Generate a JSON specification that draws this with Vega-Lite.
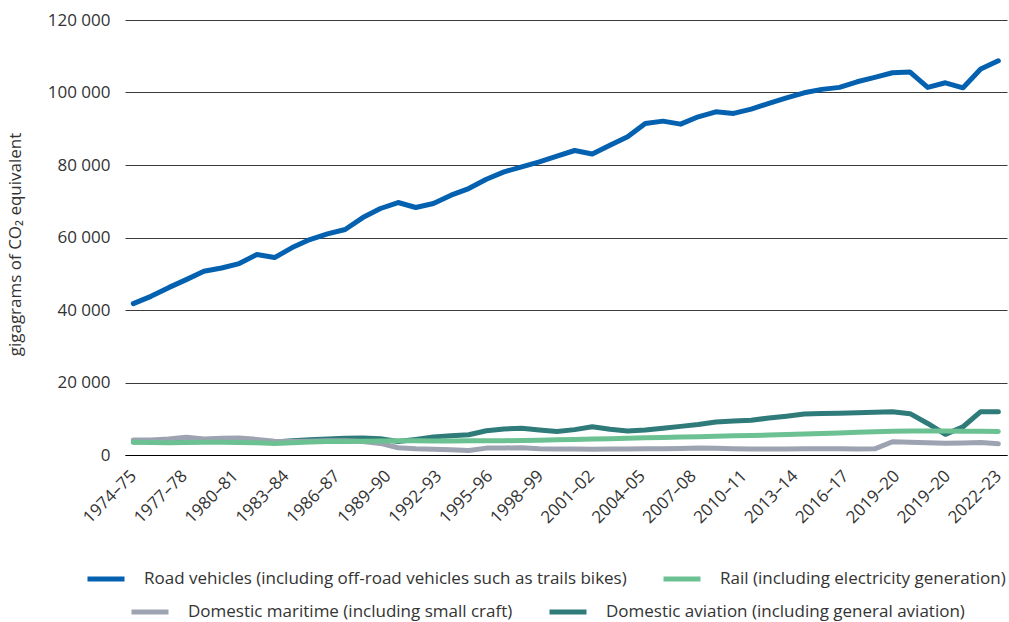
{
  "$schema": "https://vega.github.io/schema/vega-lite/v6.json",
  "width": 882,
  "height": 435,
  "autosize": {"type": "none"},
  "padding": {"left": 125, "top": 20, "right": 2, "bottom": 167},
  "background": "white",
  "config": {
    "font": "Open Sans",
    "view": {"stroke": null},
    "axis": {"labelFontSize": 17, "labelColor": "#333333", "labelFont": "Open Sans", "titleFont": "Open Sans"},
    "legend": {
      "symbolType": "stroke",
      "symbolStrokeWidth": 5,
      "symbolSize": 1369,
      "labelFontSize": 17,
      "labelFont": "Open Sans",
      "labelColor": "#333333",
      "labelLimit": 1000,
      "columnPadding": 26,
      "labelOffset": 17
    }
  },
  "data": {
    "values": [
      {"idx": 0, "year": "1974–75", "road": 41750, "rail": 3500, "maritime": 4150, "aviation": 3600},
      {"idx": 1, "year": "1975–76", "road": 43770, "rail": 3450, "maritime": 4150, "aviation": 3700},
      {"idx": 2, "year": "1976–77", "road": 46170, "rail": 3400, "maritime": 4400, "aviation": 3800},
      {"idx": 3, "year": "1977–78", "road": 48380, "rail": 3450, "maritime": 4880, "aviation": 4000},
      {"idx": 4, "year": "1978–79", "road": 50680, "rail": 3500, "maritime": 4420, "aviation": 4000},
      {"idx": 5, "year": "1979–80", "road": 51600, "rail": 3500, "maritime": 4600, "aviation": 4100},
      {"idx": 6, "year": "1980–81", "road": 52800, "rail": 3450, "maritime": 4700, "aviation": 4100},
      {"idx": 7, "year": "1981–82", "road": 55290, "rail": 3350, "maritime": 4300, "aviation": 3900},
      {"idx": 8, "year": "1982–83", "road": 54460, "rail": 3150, "maritime": 3800, "aviation": 3600},
      {"idx": 9, "year": "1983–84", "road": 57220, "rail": 3350, "maritime": 3700, "aviation": 3900},
      {"idx": 10, "year": "1984–85", "road": 59430, "rail": 3600, "maritime": 3800, "aviation": 4200},
      {"idx": 11, "year": "1985–86", "road": 60980, "rail": 3700, "maritime": 3900, "aviation": 4400},
      {"idx": 12, "year": "1986–87", "road": 62200, "rail": 3750, "maritime": 3900, "aviation": 4600},
      {"idx": 13, "year": "1987–88", "road": 65500, "rail": 3800, "maritime": 3700, "aviation": 4700},
      {"idx": 14, "year": "1988–89", "road": 68000, "rail": 3850, "maritime": 3200, "aviation": 4500},
      {"idx": 15, "year": "1989–90", "road": 69650, "rail": 3900, "maritime": 2000, "aviation": 3700},
      {"idx": 16, "year": "1990–91", "road": 68270, "rail": 3900, "maritime": 1700, "aviation": 4300},
      {"idx": 17, "year": "1991–92", "road": 69370, "rail": 3850, "maritime": 1600, "aviation": 5000},
      {"idx": 18, "year": "1992–93", "road": 71670, "rail": 3850, "maritime": 1450, "aviation": 5300},
      {"idx": 19, "year": "1993–94", "road": 73500, "rail": 3900, "maritime": 1250, "aviation": 5600},
      {"idx": 20, "year": "1994–95", "road": 76080, "rail": 3950, "maritime": 1900, "aviation": 6700},
      {"idx": 21, "year": "1995–96", "road": 78100, "rail": 3950, "maritime": 1950, "aviation": 7200},
      {"idx": 22, "year": "1996–97", "road": 79480, "rail": 4000, "maritime": 2000, "aviation": 7400},
      {"idx": 23, "year": "1997–98", "road": 80860, "rail": 4100, "maritime": 1700, "aviation": 6900},
      {"idx": 24, "year": "1998–99", "road": 82440, "rail": 4200, "maritime": 1650, "aviation": 6500},
      {"idx": 25, "year": "1999–00", "road": 84000, "rail": 4300, "maritime": 1650, "aviation": 7000},
      {"idx": 26, "year": "2000–01", "road": 83050, "rail": 4400, "maritime": 1600, "aviation": 7800},
      {"idx": 27, "year": "2001–02", "road": 85470, "rail": 4500, "maritime": 1650, "aviation": 7100},
      {"idx": 28, "year": "2002–03", "road": 87770, "rail": 4600, "maritime": 1650, "aviation": 6600},
      {"idx": 29, "year": "2003–04", "road": 91470, "rail": 4750, "maritime": 1700, "aviation": 6900},
      {"idx": 30, "year": "2004–05", "road": 92100, "rail": 4850, "maritime": 1750, "aviation": 7400},
      {"idx": 31, "year": "2005–06", "road": 91270, "rail": 4950, "maritime": 1800, "aviation": 7900},
      {"idx": 32, "year": "2006–07", "road": 93300, "rail": 5050, "maritime": 1900, "aviation": 8400},
      {"idx": 33, "year": "2007–08", "road": 94670, "rail": 5200, "maritime": 1850, "aviation": 9100},
      {"idx": 34, "year": "2008–09", "road": 94230, "rail": 5300, "maritime": 1700, "aviation": 9400},
      {"idx": 35, "year": "2009–10", "road": 95420, "rail": 5400, "maritime": 1650, "aviation": 9600},
      {"idx": 36, "year": "2010–11", "road": 96990, "rail": 5500, "maritime": 1650, "aviation": 10200},
      {"idx": 37, "year": "2011–12", "road": 98540, "rail": 5650, "maritime": 1650, "aviation": 10700},
      {"idx": 38, "year": "2012–13", "road": 99920, "rail": 5800, "maritime": 1700, "aviation": 11300},
      {"idx": 39, "year": "2013–14", "road": 100860, "rail": 5950, "maritime": 1700, "aviation": 11450},
      {"idx": 40, "year": "2014–15", "road": 101410, "rail": 6100, "maritime": 1700, "aviation": 11500},
      {"idx": 41, "year": "2015–16", "road": 102960, "rail": 6250, "maritime": 1650, "aviation": 11650},
      {"idx": 42, "year": "2016–17", "road": 104170, "rail": 6400, "maritime": 1700, "aviation": 11800},
      {"idx": 43, "year": "2017–18", "road": 105440, "rail": 6550, "maritime": 3650, "aviation": 11950},
      {"idx": 44, "year": "2018–19", "road": 105640, "rail": 6600, "maritime": 3500, "aviation": 11400},
      {"idx": 45, "year": "2019–20", "road": 101410, "rail": 6650, "maritime": 3400, "aviation": 8700},
      {"idx": 46, "year": "2019–20", "road": 102680, "rail": 6600, "maritime": 3250, "aviation": 5700},
      {"idx": 47, "year": "2020–21", "road": 101300, "rail": 6550, "maritime": 3300, "aviation": 7800},
      {"idx": 48, "year": "2021–22", "road": 106460, "rail": 6550, "maritime": 3450, "aviation": 11950},
      {"idx": 49, "year": "2022–23", "road": 108750, "rail": 6500, "maritime": 3100, "aviation": 11950}
    ]
  },
  "transform": [{"fold": ["road", "rail", "maritime", "aviation"], "as": ["series", "value"]}],
  "encoding": {
    "x": {
      "field": "idx",
      "type": "quantitative",
      "scale": {"domain": [-0.47, 49.49], "nice": false, "zero": false},
      "axis": {
        "values": [0, 2.882353, 5.764706, 8.647059, 11.529412, 14.411765, 17.294118, 20.176471, 23.058824, 25.941176, 28.823529, 31.705882, 34.588235, 37.470588, 40.352941, 43.235294, 46.117647, 49],
        "labelExpr": "['1974–75','1977–78','1980–81','1983–84','1986–87','1989–90','1992–93','1995–96','1998–99','2001–02','2004–05','2007–08','2010–11','2013–14','2016–17','2019–20','2019–20','2022–23'][round(datum.value*17/49)]",
        "labelAngle": -45,
        "labelAlign": "right",
        "labelBaseline": "middle",
        "labelPadding": 18,
        "labelOverlap": false,
        "labelFlush": false,
        "labelBound": false,
        "ticks": false,
        "grid": false,
        "domain": true,
        "domainColor": "#000000",
        "domainWidth": 1,
        "title": null
      }
    },
    "y": {
      "field": "value",
      "type": "quantitative",
      "scale": {"domain": [0, 120000], "nice": false},
      "axis": {
        "values": [0, 20000, 40000, 60000, 80000, 100000, 120000],
        "labelExpr": "replace(format(datum.value, ','), ',', ' ')",
        "ticks": false,
        "domain": false,
        "grid": true,
        "gridColor": "#3a3a3a",
        "gridWidth": 1,
        "labelPadding": 15,
        "title": "gigagrams of CO₂ equivalent",
        "titleFontSize": 17,
        "titleFontWeight": "normal",
        "titleColor": "#333333",
        "titleAngle": -90,
        "titleX": -105,
        "titleY": 224,
        "titleAlign": "center",
        "titleBaseline": "alphabetic"
      }
    }
  },
  "layer": [
    {
      "transform": [{"filter": "datum.series === 'aviation'"}],
      "mark": {"type": "line", "strokeWidth": 5, "strokeCap": "round", "strokeJoin": "round"},
      "encoding": {
        "stroke": {
          "field": "series", "type": "nominal",
          "scale": {"domain": ["maritime", "aviation"], "range": ["#9DA3B1", "#2F7B79"]},
          "legend": {
            "orient": "none", "direction": "horizontal", "title": null,
            "legendX": 4, "legendY": 571,
            "labelExpr": "datum.label === 'maritime' ? 'Domestic maritime (including small craft)' : 'Domestic aviation (including general aviation)'"
          }
        }
      }
    },
    {
      "transform": [{"filter": "datum.series === 'maritime'"}],
      "mark": {"type": "line", "strokeWidth": 5, "strokeCap": "round", "strokeJoin": "round"},
      "encoding": {
        "stroke": {"field": "series", "type": "nominal", "scale": {"domain": ["maritime", "aviation"], "range": ["#9DA3B1", "#2F7B79"]}}
      }
    },
    {
      "transform": [{"filter": "datum.series === 'rail'"}],
      "mark": {"type": "line", "strokeWidth": 5, "strokeCap": "round", "strokeJoin": "round"},
      "encoding": {
        "color": {
          "field": "series", "type": "nominal",
          "scale": {"domain": ["road", "rail"], "range": ["#0461AF", "#6CC193"]},
          "legend": {
            "orient": "none", "direction": "horizontal", "title": null,
            "legendX": -40, "legendY": 538,
            "labelExpr": "datum.label === 'road' ? 'Road vehicles (including off-road vehicles such as trails bikes)' : 'Rail (including electricity generation)'"
          }
        }
      }
    },
    {
      "transform": [{"filter": "datum.series === 'road'"}],
      "mark": {"type": "line", "strokeWidth": 5, "strokeCap": "round", "strokeJoin": "round"},
      "encoding": {
        "color": {"field": "series", "type": "nominal", "scale": {"domain": ["road", "rail"], "range": ["#0461AF", "#6CC193"]}}
      }
    }
  ]
}
